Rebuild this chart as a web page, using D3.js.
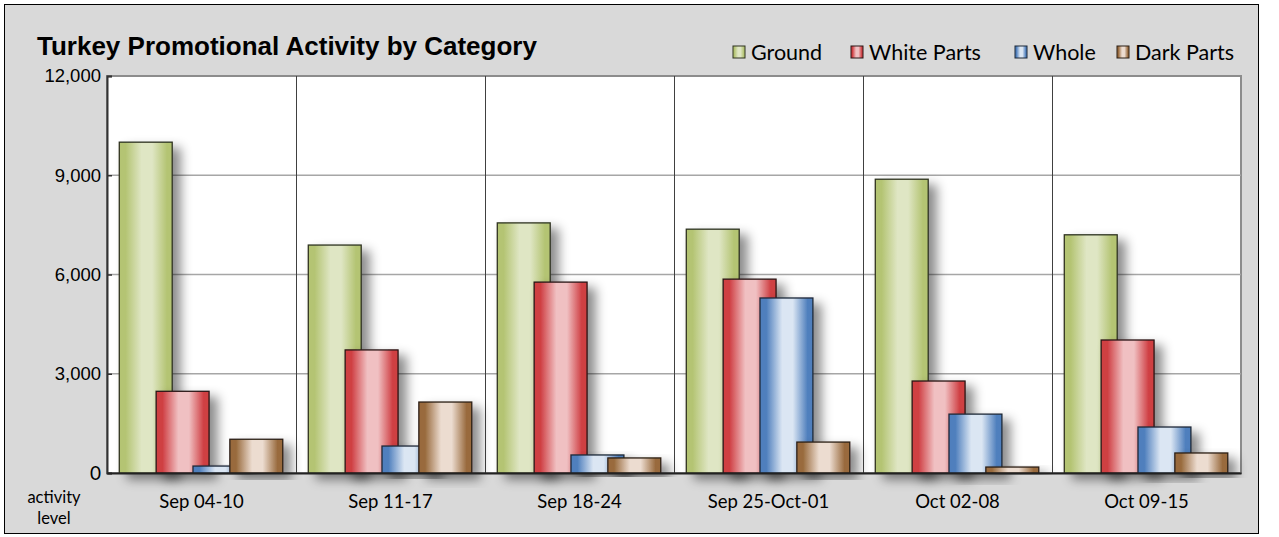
<!DOCTYPE html>
<html>
<head>
<meta charset="utf-8">
<script src="https://cdn.jsdelivr.net/npm/d3@7"></script>
<style>
  body { margin: 0; background: #fff; }
  svg { display: block; }
</style>
</head>
<body>
<script>
// chart values
const weeks = ["Sep 04-10", "Sep 11-17", "Sep 18-24", "Sep 25-Oct-01", "Oct 02-08", "Oct 09-15"];
const seriesNames = ["Ground", "White Parts", "Whole", "Dark Parts"];
const ground = [10000, 6890, 7560, 7370, 8880, 7200];
const whiteParts = [2470, 3720, 5770, 5860, 2780, 4020];
const whole = [210, 815, 545, 5290, 1780, 1390];
const darkParts = [1020, 2145, 455, 935, 180, 605];
const yTicks = [0, 3000, 6000, 9000, 12000];

const allSeries = [ground, whiteParts, whole, darkParts];
const palette = [
  { edge: "#b4c473", light: "#dfe6c4", stroke: "#2e3320" },
  { edge: "#cf3f43", light: "#f0c0c2", stroke: "#2a1616" },
  { edge: "#4f7fbd", light: "#dbe6f3", stroke: "#1c2838" },
  { edge: "#996b3e", light: "#ecdcd0", stroke: "#2b1f14" }
];
const sansCal = "Lato, 'Open Sans', sans-serif";
const sansArial = "'Liberation Sans', Arial, sans-serif";

const width = 1279, height = 537;
const svg = d3.select("body").append("svg")
  .attr("width", width)
  .attr("height", height);

const defs = svg.append("defs");
palette.forEach((p, i) => {
  const g = defs.append("linearGradient").attr("id", "grad" + i)
    .attr("x1", "0").attr("x2", "1").attr("y1", "0").attr("y2", "0");
  g.append("stop").attr("offset", "0").attr("stop-color", p.edge);
  g.append("stop").attr("offset", "0.12").attr("stop-color", p.edge);
  g.append("stop").attr("offset", "0.42").attr("stop-color", p.light);
  g.append("stop").attr("offset", "0.62").attr("stop-color", p.light);
  g.append("stop").attr("offset", "0.9").attr("stop-color", p.edge);
  g.append("stop").attr("offset", "1").attr("stop-color", p.edge);
});
const shadow = defs.append("filter").attr("id", "shadow")
  .attr("x", "-20%").attr("y", "-20%").attr("width", "160%").attr("height", "140%");
shadow.append("feDropShadow").attr("dx", 8).attr("dy", 6)
  .attr("stdDeviation", 5.5).attr("flood-color", "#000").attr("flood-opacity", 0.45);

// frame
svg.append("rect")
  .attr("x", 4.5).attr("y", 4.5)
  .attr("width", 1254).attr("height", 529)
  .attr("fill", "#d9d9d9").attr("stroke", "#000").attr("stroke-width", 1);

const margin = { left: 107, top: 76, right: 1241, bottom: 473 };

const x = d3.scaleBand().domain(weeks).range([margin.left, margin.right]);
const y = d3.scaleLinear().domain([0, 12000]).range([margin.bottom, margin.top]);
const bw = x.bandwidth();
const sub = d3.scalePoint().domain(d3.range(4)).range([bw * 0.065, bw * 0.065 + bw * 0.585]);
const barW = bw * 0.28;

// plot area
svg.append("rect")
  .attr("x", margin.left).attr("y", margin.top)
  .attr("width", margin.right - margin.left).attr("height", margin.bottom - margin.top)
  .attr("fill", "#fff").attr("stroke", "#8c8c8c").attr("stroke-width", 2);

// gridlines
svg.append("g")
  .selectAll("line")
  .data(yTicks.filter(d => d > 0 && d < 12000))
  .join("line")
  .attr("x1", margin.left).attr("x2", margin.right)
  .attr("y1", d => y(d)).attr("y2", d => y(d))
  .attr("stroke", "#a6a6a6").attr("stroke-width", 1.5);

// category separators
svg.append("g")
  .selectAll("line")
  .data(weeks.slice(1))
  .join("line")
  .attr("x1", d => x(d) + 0.5).attr("x2", d => x(d) + 0.5)
  .attr("y1", margin.top).attr("y2", margin.bottom)
  .attr("stroke", "#404040").attr("stroke-width", 1);

// bars
const groups = svg.append("g").selectAll("g")
  .data(weeks)
  .join("g")
  .attr("transform", d => `translate(${x(d)},0)`);

groups.selectAll("rect")
  .data((d, wi) => allSeries.map((s, si) => ({ si, v: s[wi] })))
  .join("rect")
  .attr("x", d => sub(d.si))
  .attr("y", d => y(d.v))
  .attr("width", barW)
  .attr("height", d => y(0) - y(d.v))
  .attr("fill", d => `url(#grad${d.si})`)
  .attr("stroke", d => palette[d.si].stroke)
  .attr("stroke-width", 1.3)
  .attr("filter", "url(#shadow)");

// axes
const yAxis = d3.axisLeft(y).tickValues(yTicks).tickSize(-5).tickPadding(12)
  .tickFormat(d3.format(","));
const yG = svg.append("g").attr("transform", `translate(${margin.left},0)`).call(yAxis);
yG.select(".domain").attr("stroke", "#333").attr("stroke-width", 2);
yG.selectAll(".tick line").attr("stroke", "#333").attr("stroke-width", 1.5);
yG.selectAll(".tick text")
  .attr("font-family", d => d === 0 ? sansCal : sansArial)
  .attr("font-size", d => d === 0 ? 19 : 18.5)
  .attr("fill", "#000").attr("x", -6);

const xAxis = d3.axisBottom(x).tickSize(0).tickPadding(22);
const xG = svg.append("g").attr("transform", `translate(0,${margin.bottom})`).call(xAxis);
xG.select(".domain").attr("stroke", "#222").attr("stroke-width", 2);
xG.selectAll(".tick text")
  .attr("font-family", sansCal)
  .attr("font-size", 18.5).attr("fill", "#000");

// axis unit label
const unit = svg.append("text")
  .attr("x", 54).attr("y", 503)
  .attr("text-anchor", "middle")
  .attr("font-family", sansCal)
  .attr("font-size", 16.5).attr("fill", "#000");
unit.append("tspan").attr("x", 54).text("activity");
unit.append("tspan").attr("x", 54).attr("dy", 21).text("level");

// title
svg.append("text")
  .attr("x", 37).attr("y", 55)
  .attr("font-family", sansArial)
  .attr("font-weight", "bold").attr("font-size", 26)
  .attr("fill", "#000")
  .text("Turkey Promotional Activity by Category");

// legend
const legendX = [733, 851, 1015, 1117];
const legend = svg.append("g").selectAll("g")
  .data(seriesNames)
  .join("g")
  .attr("transform", (d, i) => `translate(${legendX[i]},47)`);
legend.append("rect")
  .attr("width", 12).attr("height", 12).attr("y", -1)
  .attr("fill", (d, i) => `url(#grad${i})`)
  .attr("stroke", (d, i) => palette[i].stroke).attr("stroke-width", 1);
legend.append("text")
  .attr("x", 18).attr("y", 13)
  .attr("font-family", sansCal)
  .attr("font-size", 21.5).attr("fill", "#000")
  .text(d => d);
</script>
</body>
</html>
